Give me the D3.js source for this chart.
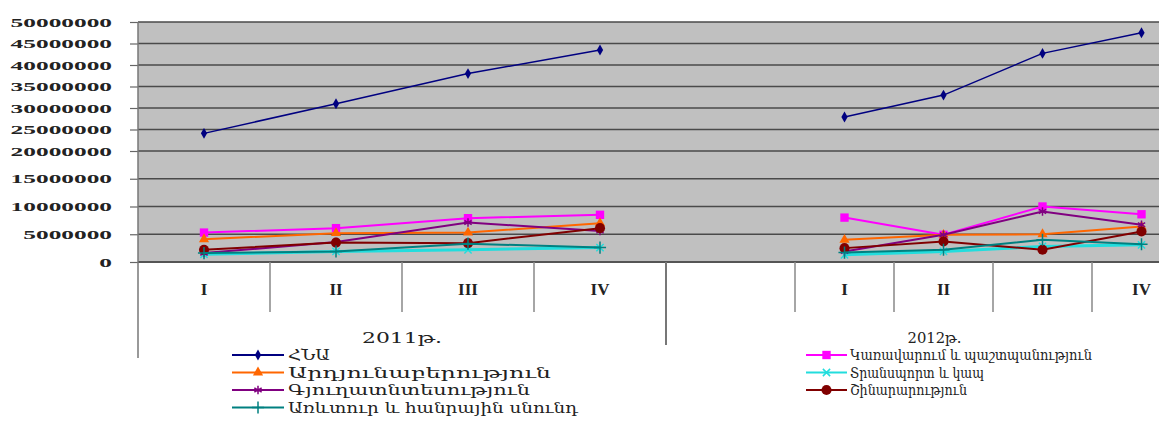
<!DOCTYPE html>
<html>
<head>
<meta charset="utf-8">
<script src="https://cdn.jsdelivr.net/npm/d3@7/dist/d3.min.js"></script>
<style>
  body { margin: 0; background: #fff; }
  svg { display: block; }
</style>
</head>
<body>
<svg width="1159" height="433"></svg>
<script>
// data
var quarters = ["I", "II", "III", "IV"];
var years = ["2011թ.", "2012թ."];
var yTickValues = [0, 5000000, 10000000, 15000000, 20000000, 25000000,
                   30000000, 35000000, 40000000, 45000000, 50000000];

var seriesNames = [
  "ՀՆԱ",
  "Կառավարում և պաշտպանություն",
  "Արդյունաբերություն",
  "Տրանսպորտ և կապ",
  "Գյուղատնտեսություն",
  "Շինարարություն",
  "Առևտուր և հանրային սնունդ"
];
// 2011 I..IV, 2012 I..IV
var gdp          = [24100000, 31000000, 38000000, 43500000, 27900000, 33000000, 42700000, 47500000];
var government   = [5300000, 6100000, 7900000, 8500000, 8000000, 4900000, 10000000, 8600000];
var industry     = [4100000, 5200000, 5300000, 7000000, 4000000, 4900000, 5000000, 6400000];
var transport    = [1400000, 1900000, 2200000, 2600000, 1300000, 1900000, 2800000, 3100000];
var agriculture  = [1600000, 3600000, 7100000, 5600000, 1900000, 4900000, 9100000, 6700000];
var construction = [2200000, 3500000, 3400000, 6100000, 2500000, 3700000, 2200000, 5500000];
var trade        = [1600000, 1900000, 3300000, 2600000, 1700000, 2200000, 4000000, 3200000];

var seriesValues = [gdp, government, industry, transport, agriculture, construction, trade];

// looks
var colors  = ["#000080", "#ff00ff", "#ff6600", "#22dddd", "#800080", "#800000", "#008080"];
var markers = [d3.symbolDiamond, d3.symbolSquare, d3.symbolTriangle, d3.symbolTimes,
               d3.symbolAsterisk, d3.symbolCircle, d3.symbolPlus];
var markerSize = [34, 70, 45, 36, 50, 80, 50];
var strokeMarker = [false, false, false, true, true, false, true];
var lineWidth = [1.5, 2, 2, 3, 2, 2, 2];

// layout
var plotLeft = 138, plotTop = 22, plotBottom = 262, plotRight = 1159;
var quarterSpan = [[138, 666], [795, 1191]];
var yearSpan = [[138, 666], [666, 1191]];
var legendRows = [355, 372.5, 390, 407.5];
var legendCols = [{x0: 232, x1: 284, tx: 288}, {x0: 806, x1: 847, tx: 850}];
var legendWidths = [42, 242, 263, 134, 242, 117, 290];
var yearLabelWidths = [80, 54];

var svg = d3.select("svg");

var y = d3.scaleLinear()
  .domain([0, 20000000, 50000000])
  .range([plotBottom, 151, plotTop]);

var xScales = quarterSpan.map(function(r) {
  return d3.scaleBand().domain(quarters).range(r);
});

function stretch(sel, f) {
  sel.each(function() {
    var L = this.getComputedTextLength();
    d3.select(this).attr("textLength", L * f).attr("lengthAdjust", "spacingAndGlyphs");
  });
}

// plot background and grid
svg.append("rect")
  .attr("x", plotLeft).attr("y", plotTop)
  .attr("width", plotRight - plotLeft).attr("height", plotBottom - plotTop)
  .attr("fill", "#c0c0c0");

svg.append("g").selectAll("line")
  .data(yTickValues.slice(1))
  .enter().append("line")
  .attr("x1", plotLeft).attr("x2", plotRight)
  .attr("y1", function(d) { return y(d); })
  .attr("y2", function(d) { return y(d); })
  .attr("stroke", "#4a4a4a")
  .attr("stroke-width", 1.6);

// y axis
var yAxis = svg.append("g")
  .attr("transform", "translate(" + plotLeft + ",0)")
  .call(d3.axisLeft(y).tickValues(yTickValues).tickFormat(function(d) { return d; })
        .tickSize(8).tickPadding(18));
yAxis.select(".domain").remove();
yAxis.selectAll(".tick line").attr("stroke", "#666").attr("stroke-width", 1.2);
yAxis.selectAll(".tick text")
  .attr("fill", "#222")
  .attr("font-family", "Liberation Serif, serif")
  .attr("font-weight", "bold")
  .attr("font-size", "13px")
  .call(stretch, 1.95);

// axis lines and category separators
svg.append("line")
  .attr("x1", plotLeft).attr("x2", plotRight)
  .attr("y1", plotBottom).attr("y2", plotBottom)
  .attr("stroke", "#555").attr("stroke-width", 2);
svg.append("line")
  .attr("x1", plotLeft).attr("x2", plotLeft)
  .attr("y1", plotTop).attr("y2", 358)
  .attr("stroke", "#777").attr("stroke-width", 1.5);

xScales.forEach(function(xs, yi) {
  var edges = quarters.map(function(q) { return xs(q); }).concat([xs.range()[1]]);
  svg.append("g").selectAll("line")
    .data(edges.filter(function(e) { return e !== plotLeft; }))
    .enter().append("line")
    .attr("x1", function(d) { return d; }).attr("x2", function(d) { return d; })
    .attr("y1", plotBottom).attr("y2", 312)
    .attr("stroke", "#888").attr("stroke-width", 1.5);

  svg.append("g").selectAll("text")
    .data(quarters)
    .enter().append("text")
    .attr("x", function(d) { return xs(d) + xs.bandwidth() / 2; })
    .attr("y", 295)
    .attr("text-anchor", "middle")
    .attr("font-family", "Liberation Serif, serif")
    .attr("font-weight", "bold")
    .attr("font-size", "17px")
    .attr("fill", "#222")
    .text(function(d) { return d; });
});

svg.append("line")
  .attr("x1", yearSpan[1][0]).attr("x2", yearSpan[1][0])
  .attr("y1", plotBottom).attr("y2", 345)
  .attr("stroke", "#777").attr("stroke-width", 2);

svg.append("g").selectAll("text")
  .data(years)
  .enter().append("text")
  .attr("x", function(d, i) { return (yearSpan[i][0] + yearSpan[i][1]) / 2 + (i ? 6 : 0); })
  .attr("y", 343)
  .attr("text-anchor", "middle")
  .attr("font-family", "DejaVu Serif, serif")
  .attr("font-size", "14px")
  .attr("fill", "#222")
  .attr("textLength", function(d, i) { return yearLabelWidths[i]; })
  .attr("lengthAdjust", "spacingAndGlyphs")
  .text(function(d) { return d; });

// series
var line = d3.line()
  .x(function(d) { return d.x; })
  .y(function(d) { return d.y; });

function drawMarker(g, i, px, py) {
  var m = g.append("path")
    .attr("transform", "translate(" + px + "," + py + ")")
    .attr("d", d3.symbol().type(markers[i]).size(markerSize[i]));
  if (strokeMarker[i]) {
    m.attr("fill", "none").attr("stroke", colors[i]).attr("stroke-width", 1.5);
  } else {
    m.attr("fill", colors[i]);
  }
}

seriesValues.forEach(function(vals, i) {
  var g = svg.append("g");
  years.forEach(function(yr, yi) {
    var xs = xScales[yi];
    var pts = quarters.map(function(q, qi) {
      return { x: xs(q) + xs.bandwidth() / 2, y: y(vals[yi * 4 + qi]) };
    });
    g.append("path")
      .attr("d", line(pts))
      .attr("fill", "none")
      .attr("stroke", colors[i])
      .attr("stroke-width", lineWidth[i]);
    pts.forEach(function(p) { drawMarker(g, i, p.x, p.y); });
  });
});

// legend
seriesNames.forEach(function(name, i) {
  var col = legendCols[i % 2];
  var ry = legendRows[Math.floor(i / 2)];
  var g = svg.append("g");
  g.append("line")
    .attr("x1", col.x0).attr("x2", col.x1)
    .attr("y1", ry).attr("y2", ry)
    .attr("stroke", colors[i]).attr("stroke-width", 2);
  drawMarker(g, i, (col.x0 + col.x1) / 2, ry);
  g.append("text")
    .attr("x", col.tx).attr("y", ry + 5)
    .attr("font-family", "DejaVu Serif, serif")
    .attr("font-size", "14px")
    .attr("fill", "#222")
    .attr("textLength", legendWidths[i])
    .attr("lengthAdjust", "spacingAndGlyphs")
    .text(name);
});
</script>
</body>
</html>
